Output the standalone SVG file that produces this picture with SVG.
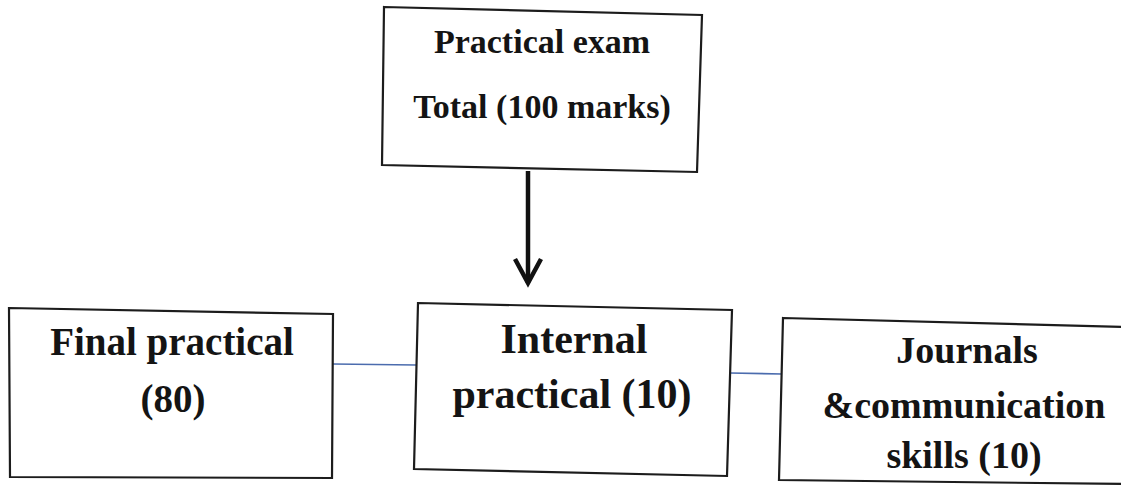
<svg xmlns="http://www.w3.org/2000/svg" width="1121" height="486" viewBox="0 0 1121 486">
  <style>
    .box { fill: #ffffff; stroke: #1c1c1c; stroke-width: 2.2; stroke-linejoin: miter; }
    .lbl { font-family: "Liberation Serif", "Times New Roman", serif; font-weight: bold; fill: #141414; text-anchor: middle; }
    .link { stroke: #4b6cae; stroke-width: 1.6; fill: none; }
    .flow { stroke: #111111; stroke-width: 4.5; fill: none; stroke-linecap: butt; stroke-linejoin: miter; }
  </style>
  <rect width="1121" height="486" fill="#ffffff"/>

  <!-- connectors -->
  <g id="connectors">
    <line class="flow" x1="528" y1="171" x2="528" y2="283"/>
    <polyline class="flow" points="515,259 528,283 541,259"/>
    <line class="link" x1="333" y1="364" x2="416" y2="365"/>
    <line class="link" x1="730" y1="373" x2="782" y2="374"/>
  </g>

  <!-- top: overall practical exam -->
  <g id="node-total">
    <polygon class="box" points="384,7 702,15 697,172 382,165"/>
    <text class="lbl" x="542" y="53" font-size="34">Practical exam</text>
    <text class="lbl" x="542" y="118" font-size="34">Total (100 marks)</text>
  </g>

  <!-- left: final practical -->
  <g id="node-final">
    <polygon class="box" points="9,308 333,314 332,478 10,477"/>
    <text class="lbl" x="172" y="355" font-size="39">Final practical</text>
    <text class="lbl" x="173" y="412" font-size="39">(80)</text>
  </g>

  <!-- centre: internal practical -->
  <g id="node-internal">
    <polygon class="box" points="418,303 732,310 727,476 414,469"/>
    <text class="lbl" x="574" y="353" font-size="42">Internal</text>
    <text class="lbl" x="572" y="408" font-size="42">practical (10)</text>
  </g>

  <!-- right: journals and communication skills -->
  <g id="node-journals">
    <polygon class="box" points="783,318 1125,327 1125,484 779,480"/>
    <text class="lbl" x="967" y="363" font-size="38">Journals</text>
    <text class="lbl" x="964" y="418" font-size="38">&amp;communication</text>
    <text class="lbl" x="964" y="468" font-size="38">skills (10)</text>
  </g>
</svg>
